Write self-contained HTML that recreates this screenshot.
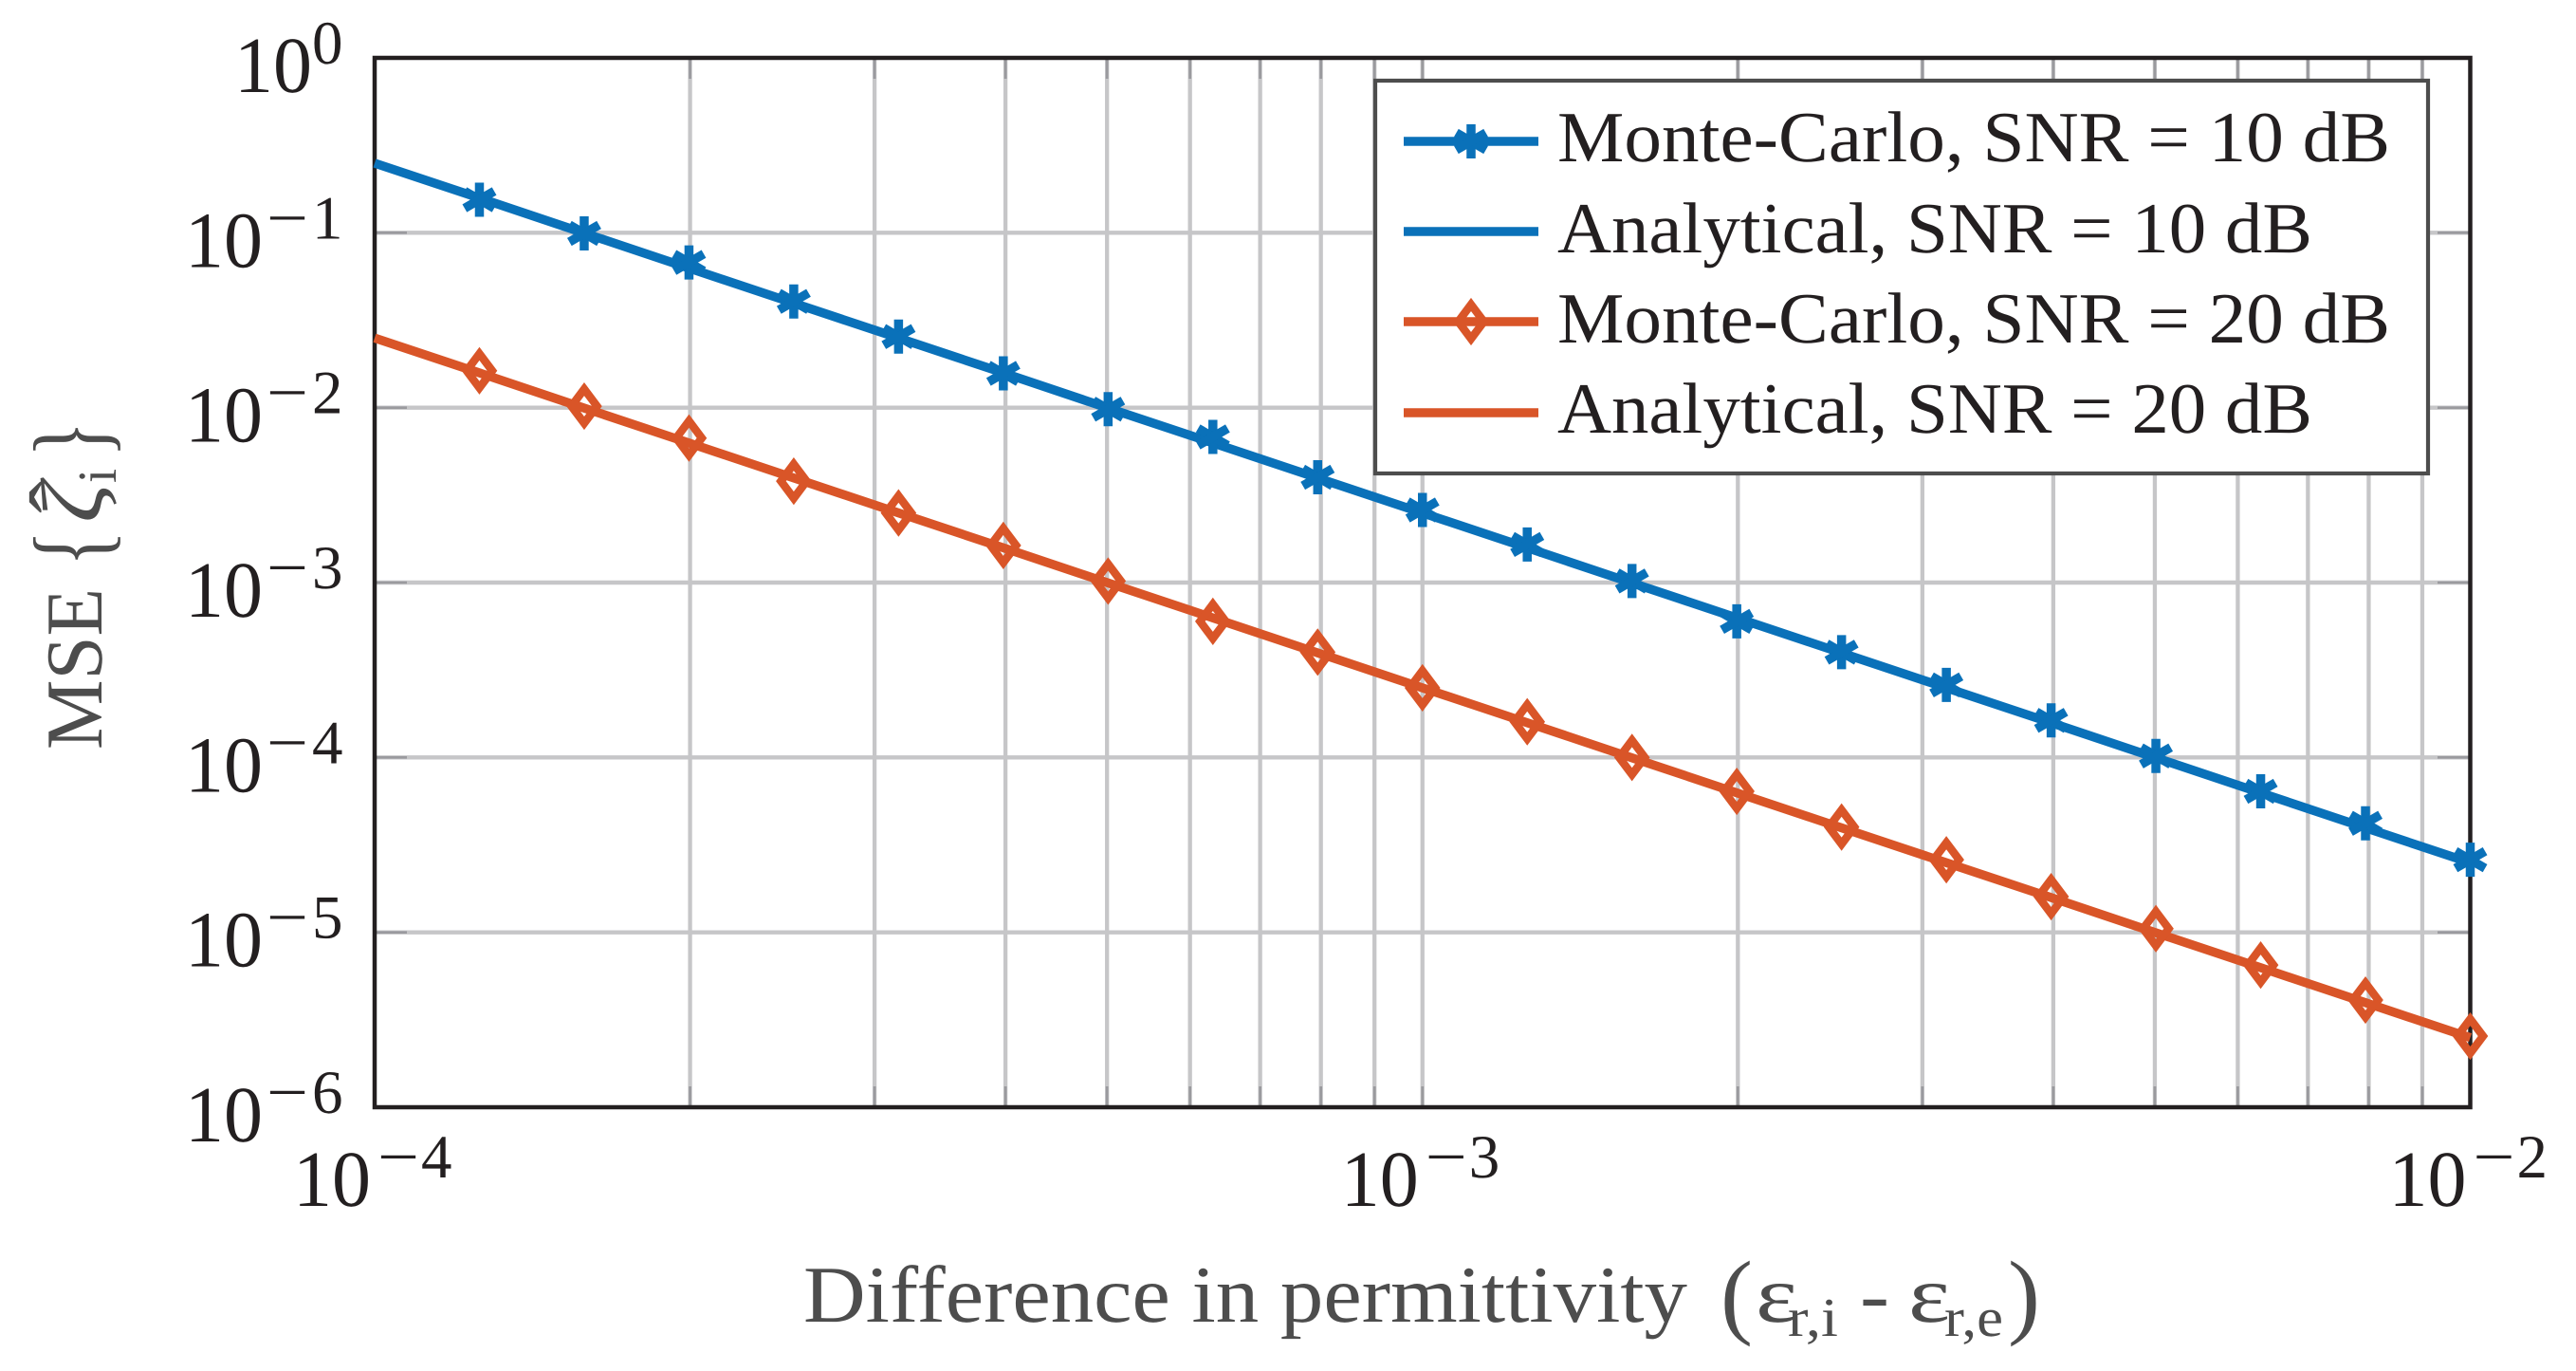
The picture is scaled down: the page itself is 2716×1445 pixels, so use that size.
<!DOCTYPE html>
<html>
<head>
<meta charset="utf-8">
<title>MSE vs difference in permittivity</title>
<style>
html,body{margin:0;padding:0;background:#fff;}
svg{display:block;}
text{font-family:"Liberation Serif",serif;text-rendering:geometricPrecision;}
</style>
</head>
<body>
<svg id="chart" xmlns="http://www.w3.org/2000/svg" width="2716" height="1445" viewBox="0 0 2716 1445">
  <rect width="2716" height="1445" fill="#fff"/>
  <g id="grid"></g>
  <g id="ticks"></g>
  <rect x="395" y="61" width="2209.5" height="1106" fill="none" stroke="#231f20" stroke-width="4.5"/>
  <g id="series"></g>
  <g id="tick-labels"></g>

  <g>
    <rect x="1450" y="85" width="1110" height="414" fill="#fff" stroke="#4d4d4d" stroke-width="4.2"/>
    <g id="legend-keys"></g>
    <text x="1642" y="170" font-size="76" fill="#231f20" textLength="878" lengthAdjust="spacingAndGlyphs">Monte-Carlo, SNR = 10 dB</text>
    <text x="1642" y="266" font-size="76" fill="#231f20" textLength="796" lengthAdjust="spacingAndGlyphs">Analytical, SNR = 10 dB</text>
    <text x="1642" y="361" font-size="76" fill="#231f20" textLength="878" lengthAdjust="spacingAndGlyphs">Monte-Carlo, SNR = 20 dB</text>
    <text x="1642" y="456" font-size="76" fill="#231f20" textLength="796" lengthAdjust="spacingAndGlyphs">Analytical, SNR = 20 dB</text>
  </g>

  <g fill="#4d4d4d">
    <text x="847" y="1393" font-size="85" textLength="932" lengthAdjust="spacingAndGlyphs">Difference in permittivity</text>
    <text x="1814" y="1398" font-size="100" textLength="34" lengthAdjust="spacingAndGlyphs">(</text>
    <text x="1851" y="1393" font-size="85" textLength="44" lengthAdjust="spacingAndGlyphs">ε</text>
    <text x="1885" y="1408" font-size="58" textLength="53" lengthAdjust="spacingAndGlyphs">r,i</text>
    <text x="1961" y="1393" font-size="85" textLength="31" lengthAdjust="spacingAndGlyphs">-</text>
    <text x="2012" y="1393" font-size="85" textLength="44" lengthAdjust="spacingAndGlyphs">ε</text>
    <text x="2050" y="1408" font-size="58" textLength="62" lengthAdjust="spacingAndGlyphs">r,e</text>
    <text x="2117" y="1398" font-size="100" textLength="34" lengthAdjust="spacingAndGlyphs">)</text>
  </g>

  <g fill="#4d4d4d">
    <text transform="translate(107,790) rotate(-90)" font-size="85" textLength="170" lengthAdjust="spacingAndGlyphs">MSE</text>
    <text transform="translate(112,597) rotate(-90)" font-size="111" textLength="38" lengthAdjust="spacingAndGlyphs">{</text>
    <text transform="translate(107,551) rotate(-90)" font-size="92" font-style="italic" textLength="42" lengthAdjust="spacingAndGlyphs">ζ</text>
    <text transform="translate(90,541) rotate(-90)" font-size="85" textLength="34" lengthAdjust="spacingAndGlyphs">ˆ</text>
    <text transform="translate(122,509) rotate(-90)" font-size="58" textLength="15" lengthAdjust="spacingAndGlyphs">i</text>
    <text transform="translate(112,482) rotate(-90)" font-size="111" textLength="38" lengthAdjust="spacingAndGlyphs">}</text>
  </g>
</svg>
<script>
// Chart data
var xExponents = [-4,-3.9,-3.8,-3.7,-3.6,-3.5,-3.4,-3.3,-3.2,-3.1,-3,-2.9,-2.8,-2.7,-2.6,-2.5,-2.4,-2.3,-2.2,-2.1,-2];
var analytical10 = [0.25,0.158,0.0995,0.0628,0.0396,0.025,0.0158,0.00995,0.00628,0.00396,0.0025,0.00158,0.000995,0.000628,0.000396,0.00025,0.000158,0.0000995,0.0000628,0.0000396,0.000025];
var analytical20 = [0.025,0.0158,0.00995,0.00628,0.00396,0.0025,0.00158,0.000995,0.000628,0.000396,0.00025,0.000158,0.0000995,0.0000628,0.0000396,0.000025,0.0000158,0.00000995,0.00000628,0.00000396,0.0000025];
var monteCarlo10 = [null,0.1546,0.0992,0.0676,0.0405,0.0255,0.0157,0.0098,0.0068,0.004,0.0026,0.00165,0.00102,0.0006,0.0004,0.00026,0.000163,0.000102,0.000064,0.000042,0.000026];
var monteCarlo20 = [null,0.01625,0.0102,0.0067,0.0038,0.0025,0.00163,0.00102,0.0006,0.0004,0.00025,0.00016,0.0001,0.000064,0.00004,0.000026,0.000016,0.0000105,0.0000065,0.0000041,0.00000255];
var xTickExponents = [-4,-3,-2];
var yTickExponents = [0,-1,-2,-3,-4,-5,-6];
var minorMultipliers = [2,3,4,5,6,7,8,9];

var NS = 'http://www.w3.org/2000/svg';
var BLUE = '#0a71b9', ORANGE = '#d95528';
function X(e){ return 395 + (e + 4) * 1104.75; }
function Y(v){ return 61 + (0 - Math.log10(v)) * 184.33; }

function make(tag, parent, attrs, name){
  var el = document.createElementNS(NS, tag);
  for (var k in attrs) el.setAttribute(k, attrs[k]);
  
  
  parent.appendChild(el);
  return el;
}

var gGrid = document.getElementById('grid');
var gTicks = document.getElementById('ticks');
var gSeries = document.getElementById('series');
var gLabels = document.getElementById('tick-labels');
var gKeys = document.getElementById('legend-keys');

function vLine(e, cls){
  var x = X(e);
  make('line', gGrid, {x1:x, x2:x, y1:61, y2:1167, stroke:'#c6c6c8', 'stroke-width':4.3}, 'x-gridline-' + cls);
  var tickLen = 22;
  make('line', gTicks, {x1:x, x2:x, y1:61, y2:61 + tickLen, stroke:'#9a9a9e', 'stroke-width':2.8}, 'x-tick-top-' + cls);
  make('line', gTicks, {x1:x, x2:x, y1:1167 - tickLen, y2:1167, stroke:'#9a9a9e', 'stroke-width':2.8}, 'x-tick-bottom-' + cls);
}
xTickExponents.forEach(function(e, i){
  if (i > 0 && i < xTickExponents.length - 1) vLine(e, 'major');
  if (i < xTickExponents.length - 1) {
    minorMultipliers.forEach(function(m){ vLine(e + Math.log10(m), 'minor'); });
  }
});
yTickExponents.forEach(function(e){
  if (e === 0 || e === -6) return;
  var y = Y(Math.pow(10, e));
  make('line', gGrid, {x1:395, x2:2604.5, y1:y, y2:y, stroke:'#c6c6c8', 'stroke-width':4.4}, 'y-gridline');
  make('line', gTicks, {x1:395, x2:429, y1:y, y2:y, stroke:'#9a9a9e', 'stroke-width':2.6}, 'y-tick-left');
  make('line', gTicks, {x1:2570, x2:2604.5, y1:y, y2:y, stroke:'#9a9a9e', 'stroke-width':2.6}, 'y-tick-right');
});

function polyline(values, color, name){
  var pts = [];
  values.forEach(function(v, i){
    if (v !== null) pts.push(X(xExponents[i]).toFixed(1) + ',' + Y(v).toFixed(1));
  });
  make('polyline', gSeries, {points:pts.join(' '), fill:'none', stroke:color, 'stroke-width':9.5}, name);
}
function asterisk(parent, cx, cy, color, name){
  var g = make('g', parent, {}, name);
  [90, 30, 150].forEach(function(a){
    var r = 18, dx = r * Math.cos(a * Math.PI / 180), dy = r * Math.sin(a * Math.PI / 180);
    make('line', g, {x1:cx - dx, y1:cy - dy, x2:cx + dx, y2:cy + dy, stroke:color, 'stroke-width':9.5}, name + '-arm');
  });
}
function diamond(parent, cx, cy, color, name){
  var pts = [[cx, cy - 18], [cx + 13.5, cy], [cx, cy + 18], [cx - 13.5, cy]].map(function(p){ return p.join(','); }).join(' ');
  make('polygon', parent, {points:pts, fill:'none', stroke:color, 'stroke-width':8.5, 'stroke-linejoin':'miter', 'stroke-miterlimit':8}, name);
}

polyline(analytical10, BLUE, 'line-analytical-10db');
polyline(analytical20, ORANGE, 'line-analytical-20db');
monteCarlo10.forEach(function(v, i){
  if (v !== null) asterisk(gSeries, X(xExponents[i]), Y(v), BLUE, 'marker-monte-carlo-10db');
});
monteCarlo20.forEach(function(v, i){
  if (v !== null) diamond(gSeries, X(xExponents[i]), Y(v), ORANGE, 'marker-monte-carlo-20db');
});

function tickLabel(xBase, yBase, xMinus, xDigit, digit, name){
  var t = make('text', gLabels, {x:xBase, y:yBase, 'font-size':84, fill:'#231f20', textLength:82, lengthAdjust:'spacingAndGlyphs'}, name + '-base');
  t.textContent = '10';
  if (xMinus !== null) {
    var m = make('text', gLabels, {x:xMinus, y:yBase - 30, 'font-size':65, fill:'#231f20', textLength:44, lengthAdjust:'spacingAndGlyphs'}, name + '-minus');
    m.textContent = '\u2212';
  }
  var d = make('text', gLabels, {x:xDigit, y:yBase - 30, 'font-size':65, fill:'#231f20'}, name + '-exponent');
  d.textContent = digit;
}
yTickExponents.forEach(function(e){
  var y = Y(Math.pow(10, e));
  if (e === 0) tickLabel(247, y + 36, null, 329, '0', 'y-tick-label');
  else tickLabel(195, y + 36, 281, 329, String(-e), 'y-tick-label');
});
xTickExponents.forEach(function(e){
  var c = X(e);
  tickLabel(c - 86, 1271, c + 3, c + 49, String(-e), 'x-tick-label');
});

var keyRows = [149, 244, 339, 435];
var keyColors = [BLUE, BLUE, ORANGE, ORANGE];
keyRows.forEach(function(y, i){
  make('line', gKeys, {x1:1480, x2:1622, y1:y, y2:y, stroke:keyColors[i], 'stroke-width':9.5}, 'legend-line');
});
asterisk(gKeys, 1551, keyRows[0], BLUE, 'legend-marker-asterisk');
diamond(gKeys, 1551, keyRows[2], ORANGE, 'legend-marker-diamond');
</script>
</body>
</html>
